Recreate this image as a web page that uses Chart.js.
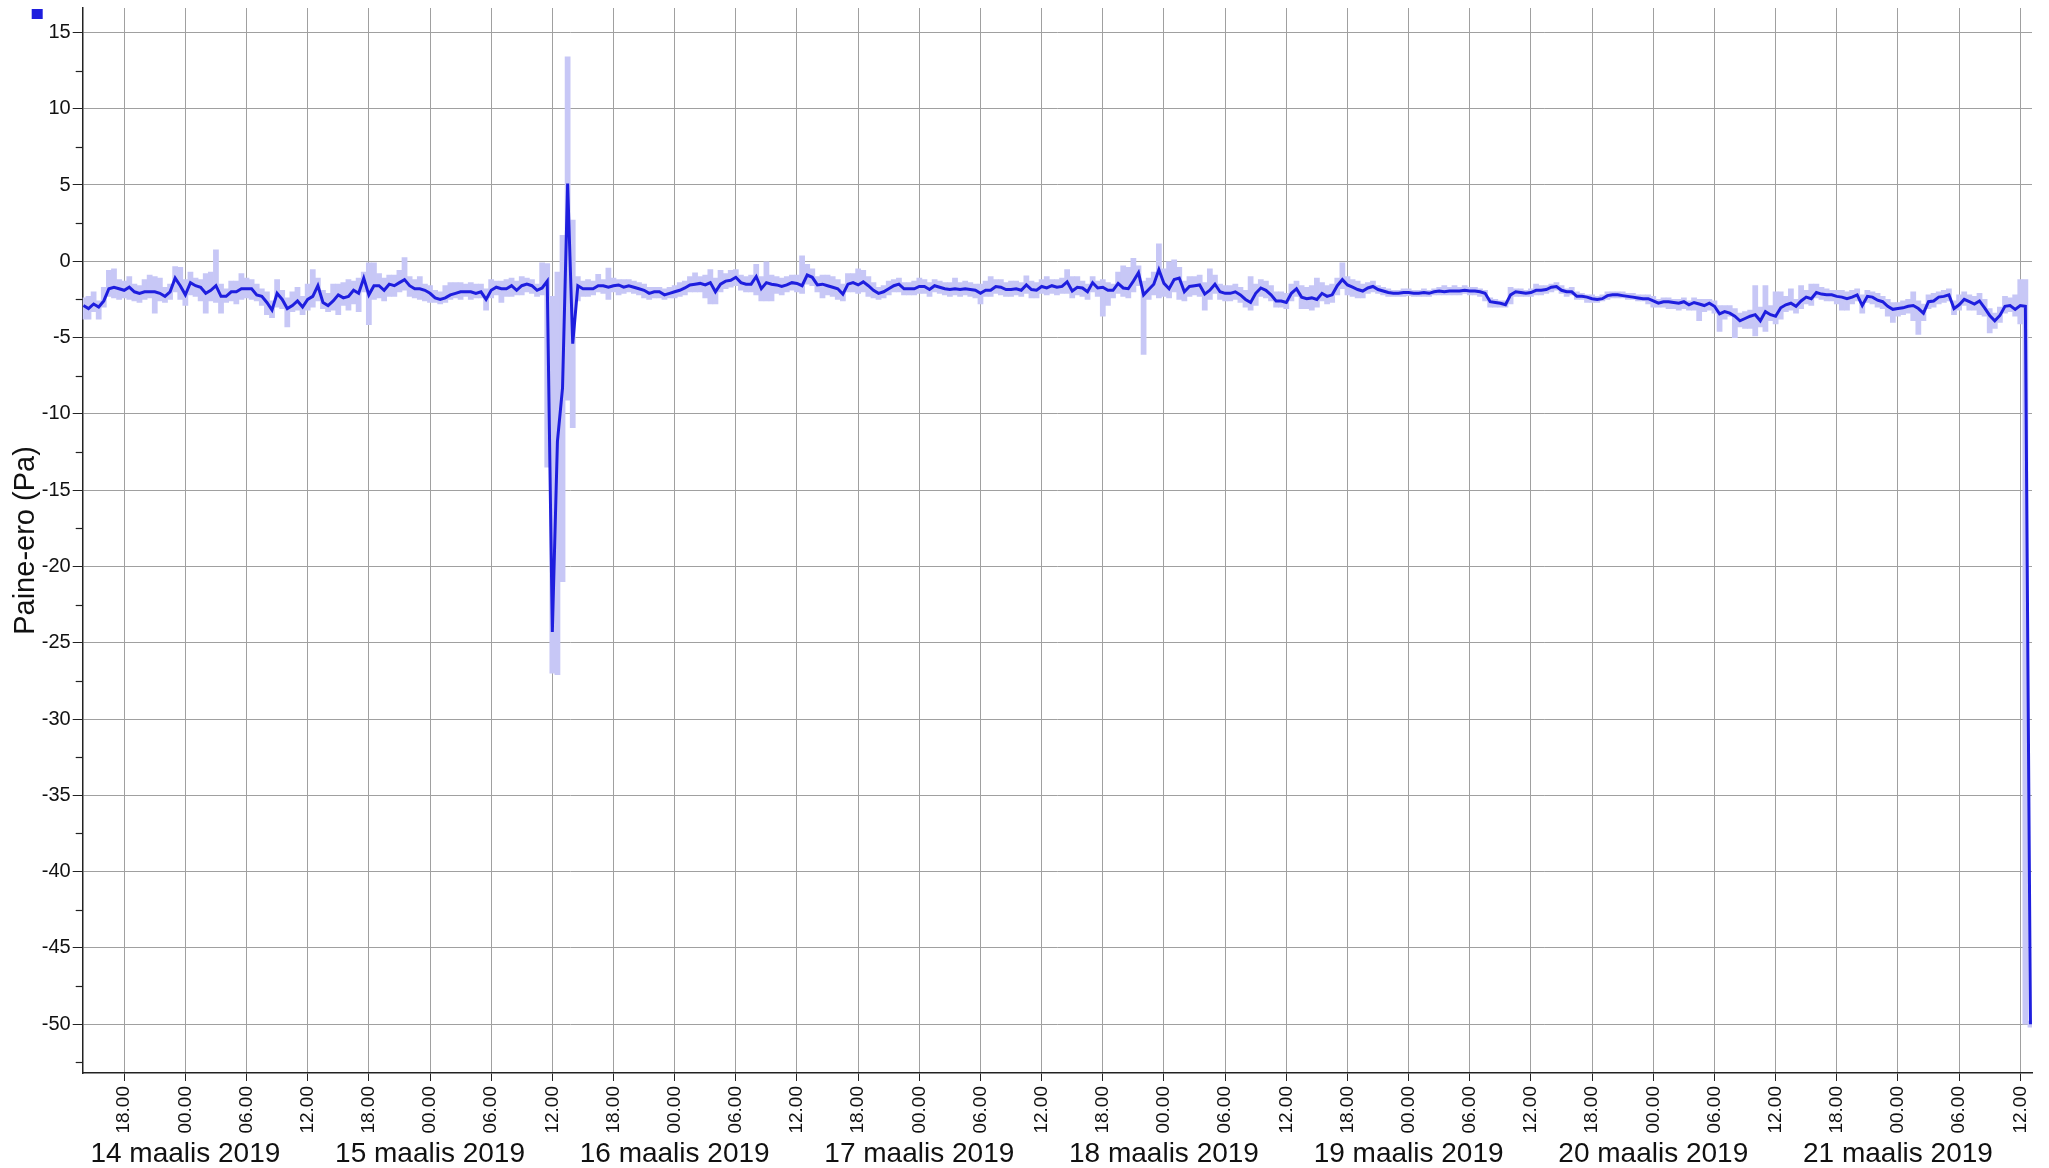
<!DOCTYPE html>
<html lang="fi">
<head>
<meta charset="UTF-8">
<title>Paine-ero</title>
<script src="https://cdn.jsdelivr.net/npm/chart.js"></script>
<style>
  html, body { margin: 0; padding: 0; background: #fff; }
  #chart { display: block; }
</style>
</head>
<body>
<canvas id="chart" width="2049" height="1168"></canvas>
<script>
// time axis in hours from 14 maalis 2019 00.00, one sample every 30 min
const START_HOUR = -10;
const STEP_HOUR = 0.5;
const X_MIN = -10.07;
const X_MAX = 181.15;
const Y_MIN = -53.2;
const Y_MAX = 16.6;

const xTickHours = [-6, 0, 6, 12, 18, 24, 30, 36, 42, 48, 54, 60, 66, 72, 78, 84, 90, 96,
  102, 108, 114, 120, 126, 132, 138, 144, 150, 156, 162, 168, 174, 180];
const dayHours = [0, 24, 48, 72, 96, 120, 144, 168];
const dayLabels = ['14 maalis 2019', '15 maalis 2019', '16 maalis 2019', '17 maalis 2019',
  '18 maalis 2019', '19 maalis 2019', '20 maalis 2019', '21 maalis 2019'];
const yMajor = [-50, -45, -40, -35, -30, -25, -20, -15, -10, -5, 0, 5, 10, 15];

// mean pressure difference (Pa)
const avg = [
  -2.9, -3.1, -2.8, -3.0, -2.6, -1.8, -1.7, -1.8, -1.9, -1.7, -2.0, -2.1, -2.0, -2.0, -2.0, -2.1, -2.3, -2.0, -1.1, -1.6,
  // 14 maalis
  -2.2, -1.4, -1.6, -1.7, -2.1, -1.9, -1.6, -2.3, -2.3, -2.0, -2.0, -1.8,
  -1.8, -1.8, -2.2, -2.3, -2.7, -3.2, -2.1, -2.5, -3.1, -2.9, -2.6, -3.0,
  -2.5, -2.3, -1.6, -2.7, -2.9, -2.6, -2.2, -2.4, -2.3, -1.9, -2.1, -1.1,
  -2.2, -1.6, -1.6, -1.9, -1.5, -1.6, -1.4, -1.2, -1.6, -1.8, -1.8, -1.9,
  // 15 maalis
  -2.1, -2.4, -2.5, -2.4, -2.2, -2.1, -2.0, -2.0, -2.0, -2.1, -2.0, -2.5,
  -1.9, -1.7, -1.8, -1.8, -1.6, -1.9, -1.6, -1.5, -1.6, -1.9, -1.75, -1.3,
  -24.3, -11.8, -8.3, 5.1, -5.4, -1.6, -1.8, -1.8, -1.8, -1.6, -1.6, -1.7,
  -1.6, -1.55, -1.7, -1.6, -1.7, -1.8, -1.9, -2.1, -2.0, -2.0, -2.2, -2.1,
  // 16 maalis
  -2.0, -1.9, -1.75, -1.55, -1.5, -1.45, -1.55, -1.4, -2.0, -1.5, -1.3, -1.25,
  -1.05, -1.4, -1.5, -1.5, -1.0, -1.8, -1.4, -1.5, -1.55, -1.65, -1.55, -1.4,
  -1.45, -1.6, -0.9, -1.05, -1.55, -1.5, -1.6, -1.7, -1.8, -2.15, -1.5, -1.4,
  -1.55, -1.35, -1.6, -1.9, -2.1, -2.0, -1.8, -1.6, -1.5, -1.8, -1.8, -1.8,
  // 17 maalis
  -1.65, -1.65, -1.85, -1.6, -1.7, -1.8, -1.85, -1.8, -1.85, -1.8, -1.85, -1.9,
  -2.1, -1.9, -1.9, -1.65, -1.7, -1.85, -1.85, -1.8, -1.9, -1.55, -1.85, -1.9,
  -1.65, -1.75, -1.6, -1.7, -1.65, -1.35, -1.95, -1.7, -1.75, -2.0, -1.4, -1.75,
  -1.7, -1.9, -1.9, -1.45, -1.75, -1.8, -1.3, -0.75, -2.2, -1.85, -1.5, -0.55,
  // 18 maalis
  -1.45, -1.8, -1.2, -1.1, -2.0, -1.65, -1.6, -1.55, -2.15, -1.9, -1.5, -2.0,
  -2.1, -2.1, -2.0, -2.2, -2.5, -2.7, -2.1, -1.75, -1.9, -2.2, -2.6, -2.6,
  -2.7, -2.1, -1.8, -2.35, -2.45, -2.4, -2.5, -2.1, -2.3, -2.2, -1.6, -1.2,
  -1.55, -1.7, -1.85, -1.95, -1.75, -1.65, -1.85, -1.95, -2.05, -2.1, -2.1, -2.05,
  // 19 maalis
  -2.05, -2.1, -2.1, -2.05, -2.1, -2.0, -1.95, -2.0, -1.95, -1.95, -1.95, -1.9,
  -1.95, -1.95, -2.0, -2.1, -2.65, -2.7, -2.75, -2.85, -2.2, -2.0, -2.05, -2.1,
  -2.05, -1.9, -1.9, -1.85, -1.7, -1.65, -1.9, -2.0, -2.0, -2.3, -2.3, -2.35,
  -2.45, -2.5, -2.45, -2.25, -2.2, -2.2, -2.25, -2.3, -2.35, -2.4, -2.45, -2.45,
  // 20 maalis
  -2.6, -2.75, -2.65, -2.65, -2.7, -2.75, -2.65, -2.85, -2.7, -2.8, -2.9, -2.75,
  -2.95, -3.45, -3.3, -3.4, -3.6, -3.9, -3.75, -3.6, -3.5, -3.9, -3.3, -3.5,
  -3.6, -3.05, -2.85, -2.75, -2.95, -2.6, -2.35, -2.45, -2.05, -2.15, -2.2, -2.2,
  -2.3, -2.35, -2.45, -2.35, -2.2, -2.9, -2.3, -2.35, -2.55, -2.65, -2.95, -3.15,
  // 21 maalis
  -3.1, -3.05, -2.95, -2.9, -3.1, -3.4, -2.65, -2.6, -2.35, -2.3, -2.2, -3.1,
  -2.85, -2.5, -2.65, -2.8, -2.6, -3.05, -3.55, -3.9, -3.55, -2.95, -2.9, -3.15,
  -2.9, -2.95, -50
];

// lowest reading in each interval
const lo = [
  -3.8, -3.8, -3.3, -3.8, -3.0, -2.3, -2.4, -2.5, -2.4, -2.5, -2.6, -2.7, -2.5, -2.4, -3.4, -2.6, -2.7, -2.5, -2.0, -2.5,
  -2.9, -2.2, -2.3, -2.6, -3.4, -2.6, -2.7, -3.4, -2.7, -2.6, -2.8, -2.5,
  -2.4, -2.5, -2.6, -2.9, -3.5, -3.7, -3.0, -3.1, -4.3, -3.3, -3.2, -3.5,
  -3.2, -3.0, -2.6, -3.1, -3.3, -3.2, -3.5, -2.9, -3.2, -2.8, -3.3, -2.0,
  -4.15, -2.5, -2.4, -2.6, -2.3, -2.3, -2.0, -1.9, -2.3, -2.4, -2.5, -2.6,
  -2.7, -2.7, -2.8, -2.7, -2.5, -2.4, -2.5, -2.3, -2.5, -2.4, -2.4, -3.2,
  -2.4, -2.2, -2.7, -2.3, -2.3, -2.2, -2.2, -2.0, -2.1, -2.3, -2.2, -13.5,
  -27.0, -27.1, -21.0, -9.1, -10.9, -2.6, -2.3, -2.3, -2.2, -2.0, -2.1, -2.5,
  -2.0, -2.2, -2.1, -2.0, -2.1, -2.2, -2.4, -2.5, -2.4, -2.4, -2.5, -2.4,
  -2.4, -2.3, -2.2, -2.0, -2.0, -2.0, -2.4, -2.8, -2.8, -2.0, -1.8, -1.7,
  -1.6, -1.9, -2.0, -2.0, -2.2, -2.6, -2.6, -2.6, -2.1, -2.2, -2.0, -1.9,
  -2.0, -2.1, -1.5, -1.6, -2.0, -2.4, -2.2, -2.3, -2.5, -2.6, -2.0, -2.0,
  -2.1, -2.0, -2.3, -2.4, -2.5, -2.4, -2.2, -2.0, -2.0, -2.2, -2.2, -2.2,
  -2.1, -2.1, -2.3, -2.0, -2.1, -2.2, -2.3, -2.2, -2.3, -2.2, -2.3, -2.4,
  -2.8, -2.3, -2.3, -2.1, -2.2, -2.3, -2.3, -2.2, -2.3, -2.1, -2.4, -2.4,
  -2.1, -2.2, -2.1, -2.2, -2.1, -2.1, -2.4, -2.2, -2.3, -2.5, -2.0, -2.3,
  -3.6, -2.9, -2.4, -2.1, -2.3, -2.4, -2.0, -1.6, -6.1, -2.5, -2.2, -2.4,
  -2.3, -2.4, -2.0, -2.5, -2.6, -2.3, -2.2, -2.3, -3.2, -2.5, -2.1, -2.5,
  -2.6, -2.6, -2.5, -2.7, -3.0, -3.2, -2.9, -2.3, -2.4, -2.6, -3.0, -3.0,
  -3.1, -2.6, -2.3, -3.1, -3.1, -3.2, -3.0, -2.6, -2.8, -2.7, -2.2, -1.8,
  -2.2, -2.3, -2.4, -2.4, -2.1, -2.0, -2.1, -2.2, -2.3, -2.3, -2.3, -2.3,
  -2.25, -2.3, -2.3, -2.3, -2.3, -2.2, -2.2, -2.2, -2.2, -2.2, -2.2, -2.1,
  -2.2, -2.2, -2.3, -2.6, -3.0, -3.0, -3.0, -3.0, -2.8, -2.3, -2.3, -2.3,
  -2.3, -2.2, -2.2, -2.1, -2.0, -1.9, -2.1, -2.3, -2.2, -2.5, -2.5, -2.7,
  -2.7, -2.7, -2.6, -2.5, -2.4, -2.4, -2.4, -2.5, -2.5, -2.6, -2.6, -2.8,
  -3.0, -3.0, -3.0, -3.1, -3.1, -3.2, -3.1, -3.2, -3.2, -3.9, -3.3, -3.2,
  -3.4, -4.6, -3.8, -3.6, -5.0, -4.3, -4.4, -4.4, -4.9, -4.3, -4.6, -3.9,
  -4.1, -3.8, -3.3, -3.2, -3.4, -3.1, -2.8, -2.9, -2.4, -2.5, -2.6, -2.6,
  -2.8, -3.2, -3.2, -2.8, -2.6, -3.4, -2.7, -2.8, -3.0, -3.1, -3.6, -4.0,
  -3.6, -3.5, -3.4, -3.9, -4.8, -3.9, -3.1, -3.0, -2.8, -2.7, -2.6, -3.5,
  -3.2, -2.9, -3.2, -3.2, -3.5, -3.6, -4.7, -4.4, -4.0, -3.4, -3.3, -3.6,
  -4.1, -50, -50.2
];

// highest reading in each interval
const hi = [
  -2.4, -2.3, -2.0, -2.6, -1.7, -0.6, -0.5, -1.2, -1.3, -1.0, -1.5, -1.6, -1.2, -0.9, -1.0, -1.1, -1.7, -1.5, -0.35, -0.4,
  -1.2, -0.7, -1.1, -1.2, -0.8, -0.7, 0.75, -1.5, -1.8, -1.3, -1.3, -0.8,
  -1.1, -1.2, -1.5, -1.8, -2.0, -2.6, -1.2, -1.9, -2.4, -2.0, -1.7, -2.3,
  -1.5, -0.55, -1.1, -1.9, -2.1, -1.5, -1.5, -1.4, -1.2, -1.3, -1.1, -0.7,
  -0.1, -0.1, -0.8, -1.1, -0.9, -0.9, -0.6, 0.25, -1.0, -1.2, -1.0, -1.5,
  -1.6, -1.9, -2.0, -1.6, -1.4, -1.4, -1.4, -1.5, -1.4, -1.5, -1.5, -1.8,
  -1.2, -1.3, -1.3, -1.2, -1.1, -1.3, -1.0, -1.1, -1.2, -1.5, -0.1, -0.15,
  -2.3, -0.7, 1.7, 13.4, 2.7, -1.0, -1.3, -1.2, -1.3, -0.85, -1.2, -0.45,
  -1.1, -1.2, -1.2, -1.2, -1.3, -1.4, -1.5, -1.7, -1.7, -1.7, -1.8, -1.7,
  -1.6, -1.4, -1.3, -1.0, -0.75, -1.0, -0.9, -0.55, -1.1, -0.6, -0.8, -0.6,
  -0.55, -0.9, -1.0, -0.9, -0.2, -1.0, 0.0, -0.9, -1.0, -1.1, -1.0, -0.9,
  -0.9, 0.35, -0.2, -0.5, -1.0, -0.9, -0.9, -1.0, -1.2, -1.5, -0.8, -0.8,
  -0.5, -0.6, -1.0, -1.4, -1.7, -1.6, -1.3, -1.2, -1.1, -1.4, -1.4, -1.3,
  -1.1, -1.2, -1.4, -1.2, -1.3, -1.4, -1.4, -1.1, -1.4, -1.3, -1.4, -1.5,
  -1.5, -1.3, -1.0, -1.2, -1.2, -1.4, -1.3, -1.3, -1.4, -0.95, -1.3, -1.4,
  -1.2, -1.0, -1.2, -1.2, -1.1, -0.55, -1.0, -1.0, -1.3, -1.5, -1.0, -1.3,
  -1.2, -1.4, -1.5, -0.7, -0.3, -0.4, 0.2, -0.3, -1.3, -1.1, -0.7, 1.15,
  -0.5, 0.0, 0.1, -0.4, -1.3, -1.0, -1.0, -0.9, -1.4, -0.5, -0.9, -1.5,
  -1.6, -1.6, -1.5, -1.7, -1.9, -1.0, -1.5, -1.2, -1.3, -1.6, -2.0, -2.0,
  -2.1, -1.5, -1.3, -1.6, -1.7, -1.6, -1.1, -1.4, -1.6, -1.5, -1.1, -0.1,
  -1.0, -1.2, -1.3, -1.5, -1.4, -1.3, -1.6, -1.7, -1.8, -1.9, -1.9, -1.8,
  -1.8, -1.9, -1.9, -1.8, -1.9, -1.8, -1.7, -1.6, -1.7, -1.6, -1.7, -1.6,
  -1.7, -1.7, -1.8, -1.9, -2.4, -2.5, -2.6, -2.6, -1.7, -1.8, -1.8, -1.9,
  -1.8, -1.5, -1.6, -1.6, -1.5, -1.4, -1.6, -1.8, -1.7, -2.0, -2.1, -2.2,
  -2.2, -2.3, -2.2, -2.0, -2.0, -2.0, -2.0, -2.1, -2.1, -2.2, -2.2, -2.2,
  -2.3, -2.5, -2.4, -2.4, -2.5, -2.5, -2.4, -2.6, -2.4, -2.5, -2.5, -2.5,
  -2.6, -2.9, -2.9, -2.9, -3.1, -3.4, -3.3, -3.2, -1.6, -3.0, -1.6, -2.9,
  -2.0, -2.0, -2.3, -1.8, -2.5, -1.6, -1.9, -1.5, -1.5, -1.7, -1.8, -1.9,
  -1.9, -1.9, -2.0, -1.9, -1.8, -2.2, -1.9, -2.0, -2.1, -2.3, -2.5, -2.7,
  -2.7, -2.6, -2.5, -2.0, -2.6, -2.8, -2.2, -2.1, -2.0, -1.9, -1.8, -2.6,
  -2.2, -2.0, -2.2, -2.3, -2.1, -2.5, -3.1, -3.4, -3.0, -2.3, -2.4, -2.2,
  -1.2, -1.2, -49.8
];

const LINE_COLOR = '#1e1ede';
const RANGE_COLOR = '#c7c7f6';
const GRID_COLOR = '#a0a0a0';
const AXIS_COLOR = '#222';
const TEXT_COLOR = '#111';

Chart.defaults.font.family = "'Liberation Sans', Arial, Helvetica, sans-serif";
Chart.defaults.color = TEXT_COLOR;

const hourAt = i => START_HOUR + i * STEP_HOUR;
const linePoints = avg.map((v, i) => ({ x: hourAt(i), y: v }));
const rangeBars = lo.map((v, i) => ({ x: hourAt(i), y: [v, hi[i]] }));

function clockLabel(h) {
    const hh = ((h % 24) + 24) % 24;
    return String(hh).padStart(2, '0') + '.00';
}

// short minor ticks on the y axis and the little legend square
const axisExtras = {
    id: 'axisExtras',
    afterDraw(chart) {
        const { ctx, chartArea, scales } = chart;
        const y = scales.y;
        ctx.save();
        ctx.strokeStyle = AXIS_COLOR;
        ctx.lineWidth = 1.2;
        yMajor.forEach(v => {
            const py = Math.round(y.getPixelForValue(v - 2.5)) + 0.5;
            ctx.beginPath();
            ctx.moveTo(chartArea.left - 7, py);
            ctx.lineTo(chartArea.left, py);
            ctx.stroke();
        });
        ctx.fillStyle = LINE_COLOR;
        ctx.fillRect(chartArea.left - 51, chartArea.top + 1, 11, 10);
        ctx.restore();
    }
};

new Chart(document.getElementById('chart'), {
    type: 'bar',
    data: {
        datasets: [
            {
                type: 'line',
                label: 'Paine-ero',
                data: linePoints,
                borderColor: LINE_COLOR,
                borderWidth: 3,
                pointRadius: 0,
                tension: 0,
                order: 0
            },
            {
                type: 'bar',
                label: 'min-max',
                data: rangeBars,
                backgroundColor: RANGE_COLOR,
                borderWidth: 0,
                barPercentage: 1,
                categoryPercentage: 1,
                order: 1
            }
        ]
    },
    options: {
        responsive: false,
        animation: false,
        devicePixelRatio: 1,
        layout: { padding: { top: 8, right: 17, bottom: 0, left: 0 } },
        plugins: {
            legend: { display: false },
            tooltip: { enabled: false }
        },
        scales: {
            x: {
                type: 'linear',
                position: 'bottom',
                min: X_MIN,
                max: X_MAX,
                offset: false,
                weight: 0,
                afterBuildTicks: s => { s.ticks = xTickHours.map(v => ({ value: v })); },
                afterFit: s => { s.height = 62; s.paddingLeft = 0; s.paddingRight = 0; },
                ticks: {
                    autoSkip: false,
                    minRotation: 90,
                    maxRotation: 90,
                    padding: 5,
                    font: { size: 19 },
                    color: TEXT_COLOR,
                    callback: v => clockLabel(v)
                },
                grid: { color: GRID_COLOR, lineWidth: 1, offset: false, tickLength: 8, tickColor: AXIS_COLOR },
                border: { color: AXIS_COLOR, width: 1.5 }
            },
            xDay: {
                type: 'linear',
                position: 'bottom',
                min: X_MIN,
                max: X_MAX,
                offset: false,
                weight: 1,
                afterBuildTicks: s => { s.ticks = dayHours.map(v => ({ value: v })); },
                afterFit: s => { s.height = 33; s.paddingLeft = 0; s.paddingRight = 0; },
                ticks: {
                    autoSkip: false,
                    minRotation: 0,
                    maxRotation: 0,
                    padding: -6,
                    font: { size: 28 },
                    color: TEXT_COLOR,
                    callback: v => dayLabels[dayHours.indexOf(v)]
                },
                grid: { display: false, offset: false },
                border: { display: false }
            },
            y: {
                type: 'linear',
                min: Y_MIN,
                max: Y_MAX,
                beginAtZero: false,
                afterBuildTicks: s => { s.ticks = yMajor.map(v => ({ value: v })); },
                afterFit: s => { s.width = 82.7; s.paddingTop = 0; s.paddingBottom = 0; },
                ticks: { font: { size: 20 }, padding: 2, color: TEXT_COLOR },
                grid: { color: GRID_COLOR, lineWidth: 1, tickLength: 10, tickColor: AXIS_COLOR },
                border: { color: AXIS_COLOR, width: 1.5 },
                title: {
                    display: true,
                    text: 'Paine-ero (Pa)',
                    font: { size: 29 },
                    color: TEXT_COLOR,
                    padding: { top: 9, bottom: 0 }
                }
            }
        }
    },
    plugins: [axisExtras]
});
</script>
</body>
</html>
